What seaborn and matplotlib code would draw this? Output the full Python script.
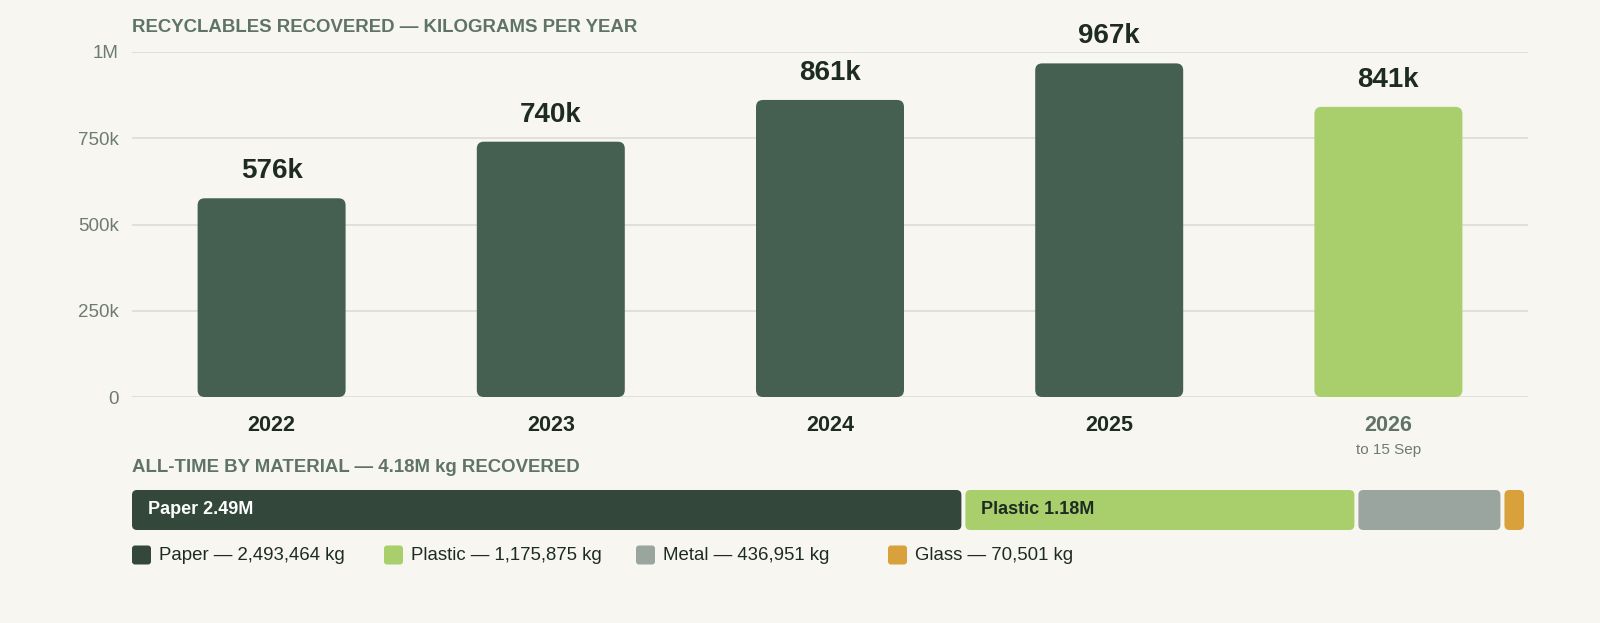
import numpy as np
import pandas as pd
import matplotlib
matplotlib.use("Agg")
import matplotlib.pyplot as plt
import seaborn as sns
from matplotlib.patches import FancyBboxPatch
from matplotlib.transforms import blended_transform_factory

# data
years = ["2022", "2023", "2024", "2025", "2026"]
recovered_kg = [576000, 740000, 861000, 967000, 841000]
y_ticks = [0, 250000, 500000, 750000, 1000000]
y_tick_labels = ["0", "250k", "500k", "750k", "1M"]

materials = ["Paper", "Plastic", "Metal", "Glass"]
material_kg = [2493464, 1175875, 436951, 70501]
material_bar_labels = ["Paper 2.49M", "Plastic 1.18M", "", ""]

# colours
BG = "#f7f6f1"
BAR = "#455f50"
CURRENT = "#a8cf6c"
GRID = "#d9ddd6"
MUTED = "#5f7366"
TICK = "#6d7b71"
DARK = "#1e2b23"
material_colors = ["#33483b", "#a8cf6c", "#9aa59f", "#d9a13c"]

sns.set_theme(style="white")
plt.rcParams["font.family"] = ["Liberation Sans", "DejaVu Sans"]

W, H = 1600, 623
fig = plt.figure(figsize=(W / 100, H / 100), dpi=100, facecolor=BG)


def px_rect(x0, y0, x1, y1):
    # pixel box (top-left origin) -> figure fraction rect
    return [x0 / W, 1 - y1 / H, (x1 - x0) / W, (y1 - y0) / H]


def round_bars(ax, radius_px):
    p0 = ax.transData.transform((0, 0))
    p1 = ax.transData.transform((1, 1))
    ppx, ppy = abs(p1[0] - p0[0]), abs(p1[1] - p0[1])
    for p in list(ax.patches):
        x, y, w, h = p.get_x(), p.get_y(), p.get_width(), p.get_height()
        fc = p.get_facecolor()
        p.remove()
        ax.add_patch(FancyBboxPatch(
            (x, y), w, h,
            boxstyle=f"round,pad=0,rounding_size={radius_px / ppx}",
            mutation_aspect=ppx / ppy, fc=fc, ec="none", zorder=3))


# ---- yearly bars
ax = fig.add_axes(px_rect(132, 52, 1528, 397))
ax.set_facecolor(BG)
df = pd.DataFrame({"year": years, "kg": recovered_kg})
palette = {y: BAR for y in years}
palette[years[-1]] = CURRENT
sns.barplot(data=df, x="year", y="kg", hue="year", palette=palette,
            width=0.53, saturation=1, legend=False, ax=ax)
ax.set_xlim(-0.5, len(years) - 0.5)
ax.set_ylim(0, 1000000)
round_bars(ax, 7)

for t in y_ticks:
    ax.axhline(t, color=GRID, lw=1.2, zorder=1)
ax.set_yticks(y_ticks, y_tick_labels)
ax.tick_params(axis="y", length=0, pad=9.5, labelsize=13.5, labelcolor=TICK)
ax.tick_params(axis="x", length=0, pad=13, labelsize=15.5)
for lab in ax.get_xticklabels():
    lab.set_fontweight("bold")
    lab.set_color(DARK)
ax.get_xticklabels()[-1].set_color(MUTED)
ax.set_xlabel("")
ax.set_ylabel("")
sns.despine(ax=ax, left=True, bottom=True)

for i, v in enumerate(recovered_kg):
    ax.annotate(f"{v / 1000:.0f}k", (i, v), xytext=(0, 10), textcoords="offset points",
                ha="center", va="bottom", fontsize=20, fontweight="bold",
                color=DARK, clip_on=False)

trans = blended_transform_factory(ax.transData, fig.transFigure)
ax.text(len(years) - 1, 1 - 450 / H, "to 15 Sep", transform=trans,
        ha="center", va="center", fontsize=11, color=TICK)

fig.text(132 / W, 1 - 28 / H, "RECYCLABLES RECOVERED — KILOGRAMS PER YEAR",
         ha="left", va="center", fontsize=13.4, fontweight="bold", color=MUTED)

# ---- all-time material bar
fig.text(132 / W, 1 - 468 / H, "ALL-TIME BY MATERIAL — "
         f"{sum(material_kg) / 1e6:.2f}M kg RECOVERED",
         ha="left", va="center", fontsize=13.4, fontweight="bold", color=MUTED)

total = sum(material_kg)
ax2 = fig.add_axes(px_rect(132, 490, 1528, 530))
ax2.set_xlim(0, total)
ax2.set_ylim(0, 1)
ax2.axis("off")
gap = 4 * total / 1396
lefts = np.concatenate([[0], np.cumsum(material_kg)[:-1]])
ax2.barh(0.5, np.array(material_kg) - gap, left=lefts, height=1.0,
         color=material_colors)
round_bars(ax2, 5)
pad = 16 * total / 1396
label_colors = ["white", DARK, DARK, DARK]
for lbl, left, c in zip(material_bar_labels, lefts, label_colors):
    if lbl:
        ax2.text(left + pad, 0.5, lbl, ha="left", va="center", fontsize=13,
                 fontweight="bold", color=c, zorder=5)

# ---- legend row
ax3 = fig.add_axes(px_rect(132, 545, 1528, 565))
ax3.set_xlim(0, 1396)
ax3.set_ylim(0, 20)
ax3.axis("off")
for i, (name, kg, c) in enumerate(zip(materials, material_kg, material_colors)):
    x = i * 252
    ax3.add_patch(FancyBboxPatch((x, 0.5), 19, 19, boxstyle="round,pad=0,rounding_size=3",
                                 fc=c, ec="none", clip_on=False))
    ax3.text(x + 27, 10, f"{name} — {kg:,} kg", ha="left", va="center",
             fontsize=13.4, color=DARK, clip_on=False)

fig.savefig("out.png", dpi=100, facecolor=BG)
